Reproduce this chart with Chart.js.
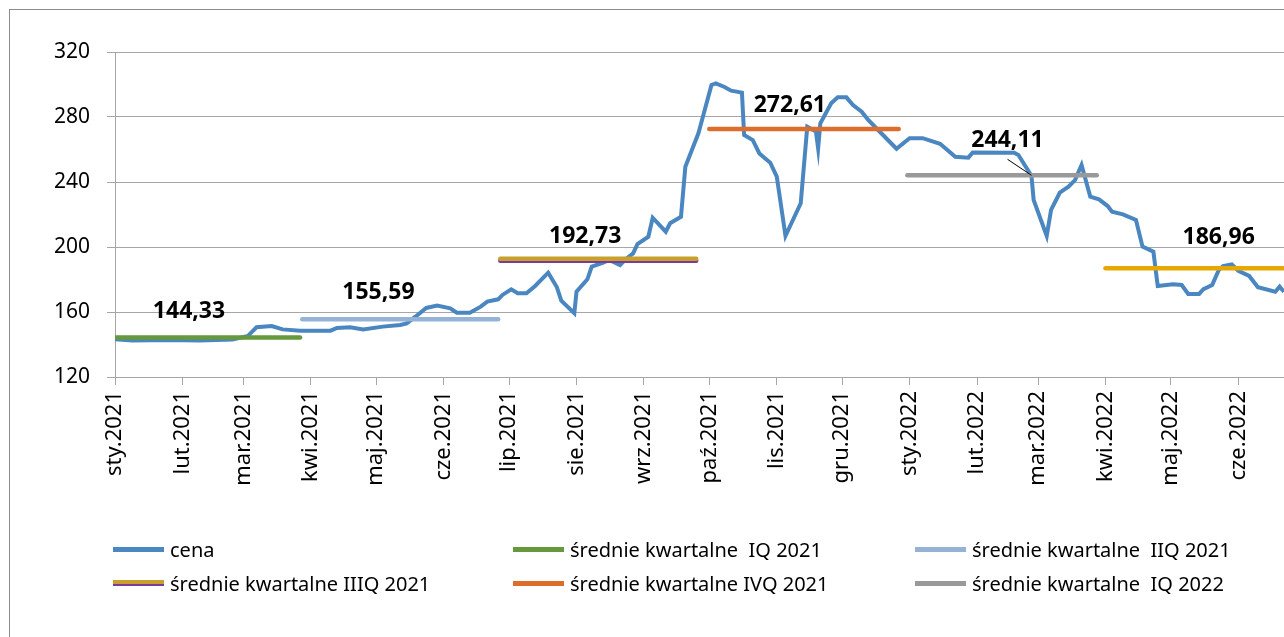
<!DOCTYPE html>
<html lang="pl">
<head>
<meta charset="utf-8">
<title>cena i średnie kwartalne</title>
<script src="https://cdn.jsdelivr.net/npm/chart.js@4.4.1/dist/chart.umd.min.js"></script>
<style>
    html, body { margin: 0; padding: 0; background: #fff; overflow: hidden; }
    #ramka {
        position: absolute; left: 9px; top: 9px; width: 1400px; height: 700px;
        border-left: 1px solid #8c8c8c; border-top: 1px solid #8c8c8c;
    }
    #wykres { position: absolute; left: 0; top: 0; }
    #legenda {
        position: absolute; left: 113px; top: 532px;
        display: grid; grid-template-columns: 400px 402px 360px;
        font-family: 'Noto Sans', sans-serif; font-size: 20px; color: #000;
    }
    .poz { display: flex; align-items: center; height: 34px; white-space: pre; }
    .probka { width: 51px; height: 5px; margin-right: 6px; box-sizing: border-box; }
</style>
</head>
<body>
<div id="ramka"></div>
<canvas id="wykres" width="1284" height="637"></canvas>
<div id="legenda"></div>

<script>
// dzień od 1 stycznia 2021 i cena
const dni = [0, 8, 24, 39, 54, 61, 65, 72, 77, 85,
    99, 102, 108, 114, 123, 131, 134, 138, 143, 148,
    154, 157, 163, 168, 171, 176, 178, 182, 185, 189,
    193, 199, 203, 205, 211, 212, 217, 219, 224, 227,
    232, 235, 238, 240, 245, 247, 253, 255, 260, 262,
    268, 274, 276, 280, 283, 288, 289, 293, 296, 301,
    304, 308, 315, 318, 322, 323, 324, 329, 332, 336,
    339, 343, 346, 352, 359, 365, 371, 379, 386, 392,
    394, 413, 415, 421, 422, 428, 430, 434, 438, 441,
    444, 448, 452, 456, 458, 463, 469, 472, 477, 479,
    486, 490, 493, 498, 500, 504, 507, 509, 513, 516,
    521, 525, 533, 535, 537];

const ceny = [143.2, 142.4, 142.8, 142.4, 143.0, 145.2, 150.6, 151.4, 149.3, 148.5,
    148.5, 150.2, 150.6, 149.3, 151.0, 152.0, 153.0, 157.1, 162.5, 163.9,
    162.3, 159.6, 159.6, 163.3, 166.4, 167.8, 170.5, 174.0, 171.5, 171.5,
    176.0, 184.2, 175.2, 167.0, 159.2, 172.5, 180.1, 187.9, 190.3, 192.0,
    188.9, 193.0, 196.1, 201.8, 206.3, 218.0, 209.4, 214.6, 218.6, 249.4,
    270.0, 299.7, 300.7, 298.5, 296.2, 295.0, 268.9, 265.8, 257.6, 251.9,
    243.3, 206.8, 226.9, 274.0, 271.0, 260.7, 276.1, 288.4, 292.1, 292.1,
    287.4, 283.3, 278.2, 270.0, 260.5, 267.0, 267.0, 263.5, 255.5, 255.0,
    258.2, 258.0, 256.6, 243.7, 228.9, 206.8, 222.8, 233.4, 237.1, 241.2,
    250.5, 231.0, 229.3, 225.2, 221.7, 220.1, 216.6, 200.2, 197.1, 176.0,
    177.0, 176.6, 171.1, 171.1, 174.0, 176.6, 185.8, 188.3, 189.3, 185.4,
    182.2, 175.2, 172.5, 175.6, 172.5];

// średnie kwartalne
const nazwySrednich = [
    'średnie kwartalne  IQ 2021',
    'średnie kwartalne  IIQ 2021',
    'średnie kwartalne IIIQ 2021',
    'średnie kwartalne IVQ 2021',
    'średnie kwartalne  IQ 2022',
    'średnie kwartalne IIQ 2022'
];
const srednie = [144.33, 155.59, 192.73, 272.61, 244.11, 186.96];
const kwartalOd = [0, 86, 177, 273, 364, 455];
const kwartalDo = [85, 176, 267, 360, 451, 537];
const etykietaDzien = [34, 121, 216, 310, 410, 507];

// oś X
const poczatkiMiesiecy = [0, 31, 59, 90, 120, 151, 181, 212, 243, 273, 304, 334,
    365, 396, 424, 455, 485, 516];
const etykietyMiesiecy = ['sty.2021', 'lut.2021', 'mar.2021', 'kwi.2021', 'maj.2021', 'cze.2021',
    'lip.2021', 'sie.2021', 'wrz.2021', 'paź.2021', 'lis.2021', 'gru.2021',
    'sty.2022', 'lut.2022', 'mar.2022', 'kwi.2022', 'maj.2022', 'cze.2022'];

const koloryKwartalow = ['#66993d', '#95b3d7', '#c9a12a', '#dd6d2a', '#999999', '#e6a700'];
const FONT = "'Noto Sans', sans-serif";

const zbiory = [{
    label: 'cena',
    data: dni.map((d, i) => ({ x: d, y: ceny[i] })),
    borderColor: '#4a87c1',
    backgroundColor: '#4a87c1',
    borderWidth: 4,
    pointRadius: 0,
    tension: 0,
    order: 10
}];

srednie.forEach((s, i) => {
    zbiory.push({
        label: nazwySrednich[i],
        data: [{ x: kwartalOd[i], y: s }, { x: kwartalDo[i], y: s }],
        borderColor: koloryKwartalow[i],
        backgroundColor: koloryKwartalow[i],
        borderWidth: 4.5,
        borderCapStyle: 'round',
        pointRadius: 0,
        tension: 0,
        order: 0,
        cien: i === 2 ? '#7a3a9e' : null,
        bezLegendy: i === 5
    });
});

// fioletowy cień pod linią IIIQ
const cienLinii = {
    id: 'cienLinii',
    beforeDatasetDraw(chart, args) {
        const ds = chart.data.datasets[args.index];
        chart.ctx.save();
        if (ds.cien) {
            chart.ctx.shadowColor = ds.cien;
            chart.ctx.shadowOffsetY = 2;
            chart.ctx.shadowBlur = 0;
        }
    },
    afterDatasetDraw(chart) {
        chart.ctx.restore();
    }
};

// wartości średnich nad liniami
const etykiety = {
    id: 'etykiety',
    afterDatasetsDraw(chart, args, opts) {
        const ctx = chart.ctx;
        const x = chart.scales.x, y = chart.scales.y;
        ctx.save();
        ctx.font = 'bold 23px ' + FONT;
        ctx.fillStyle = '#000';
        ctx.textAlign = 'center';
        ctx.textBaseline = 'middle';
        srednie.forEach((s, i) => {
            const px = x.getPixelForValue(etykietaDzien[i]);
            const py = y.getPixelForValue(s) - opts.odstep[i];
            ctx.fillText(s.toFixed(2).replace('.', ','), px, py);
            if (opts.odnosnik.indeks === i) {
                ctx.beginPath();
                ctx.lineWidth = 1;
                ctx.strokeStyle = '#000';
                ctx.moveTo(px, py + 19);
                ctx.lineTo(x.getPixelForValue(opts.odnosnik.dzien), y.getPixelForValue(s));
                ctx.stroke();
            }
        });
        ctx.restore();
    }
};

const wykres = new Chart(document.getElementById('wykres').getContext('2d'), {
    type: 'line',
    data: { datasets: zbiory },
    options: {
        responsive: false,
        animation: false,
        layout: { padding: { top: 52, left: 0, right: 0, bottom: 0 } },
        scales: {
            x: {
                type: 'linear',
                min: 0,
                max: dni[dni.length - 1],
                afterBuildTicks(s) {
                    s.ticks = poczatkiMiesiecy.map(v => ({ value: v }));
                },
                afterFit(s) { s.height = 260; },
                ticks: {
                    autoSkip: false,
                    minRotation: 90,
                    maxRotation: 90,
                    padding: 6,
                    color: '#000',
                    font: { family: FONT, size: 22 },
                    callback: v => etykietyMiesiecy[poczatkiMiesiecy.indexOf(v)]
                },
                grid: { drawOnChartArea: false, tickLength: 8, color: '#a6a6a6' },
                border: { color: '#a6a6a6' }
            },
            y: {
                min: 120,
                max: 320,
                afterFit(s) { s.width = 115; },
                ticks: {
                    stepSize: 40,
                    padding: 17,
                    color: '#000',
                    font: { family: FONT, size: 21 }
                },
                grid: { color: '#a6a6a6', tickLength: 8 },
                border: { color: '#a6a6a6' }
            }
        },
        plugins: {
            legend: { display: false },
            tooltip: { enabled: false },
            etykiety: {
                odstep: [26, 27, 22, 24, 35, 31],
                odnosnik: { indeks: 4, dzien: 421 }
            }
        }
    },
    plugins: [cienLinii, etykiety]
});

// legenda w trzech kolumnach
const legenda = document.getElementById('legenda');
wykres.data.datasets.filter(ds => !ds.bezLegendy).forEach(ds => {
    const poz = document.createElement('div');
    poz.className = 'poz';
    const probka = document.createElement('span');
    probka.className = 'probka';
    probka.style.background = ds.borderColor;
    if (ds.cien) {
        probka.style.height = '6px';
        probka.style.borderBottom = '2px solid ' + ds.cien;
    }
    poz.appendChild(probka);
    poz.appendChild(document.createTextNode(ds.label));
    legenda.appendChild(poz);
});
</script>
</body>
</html>
